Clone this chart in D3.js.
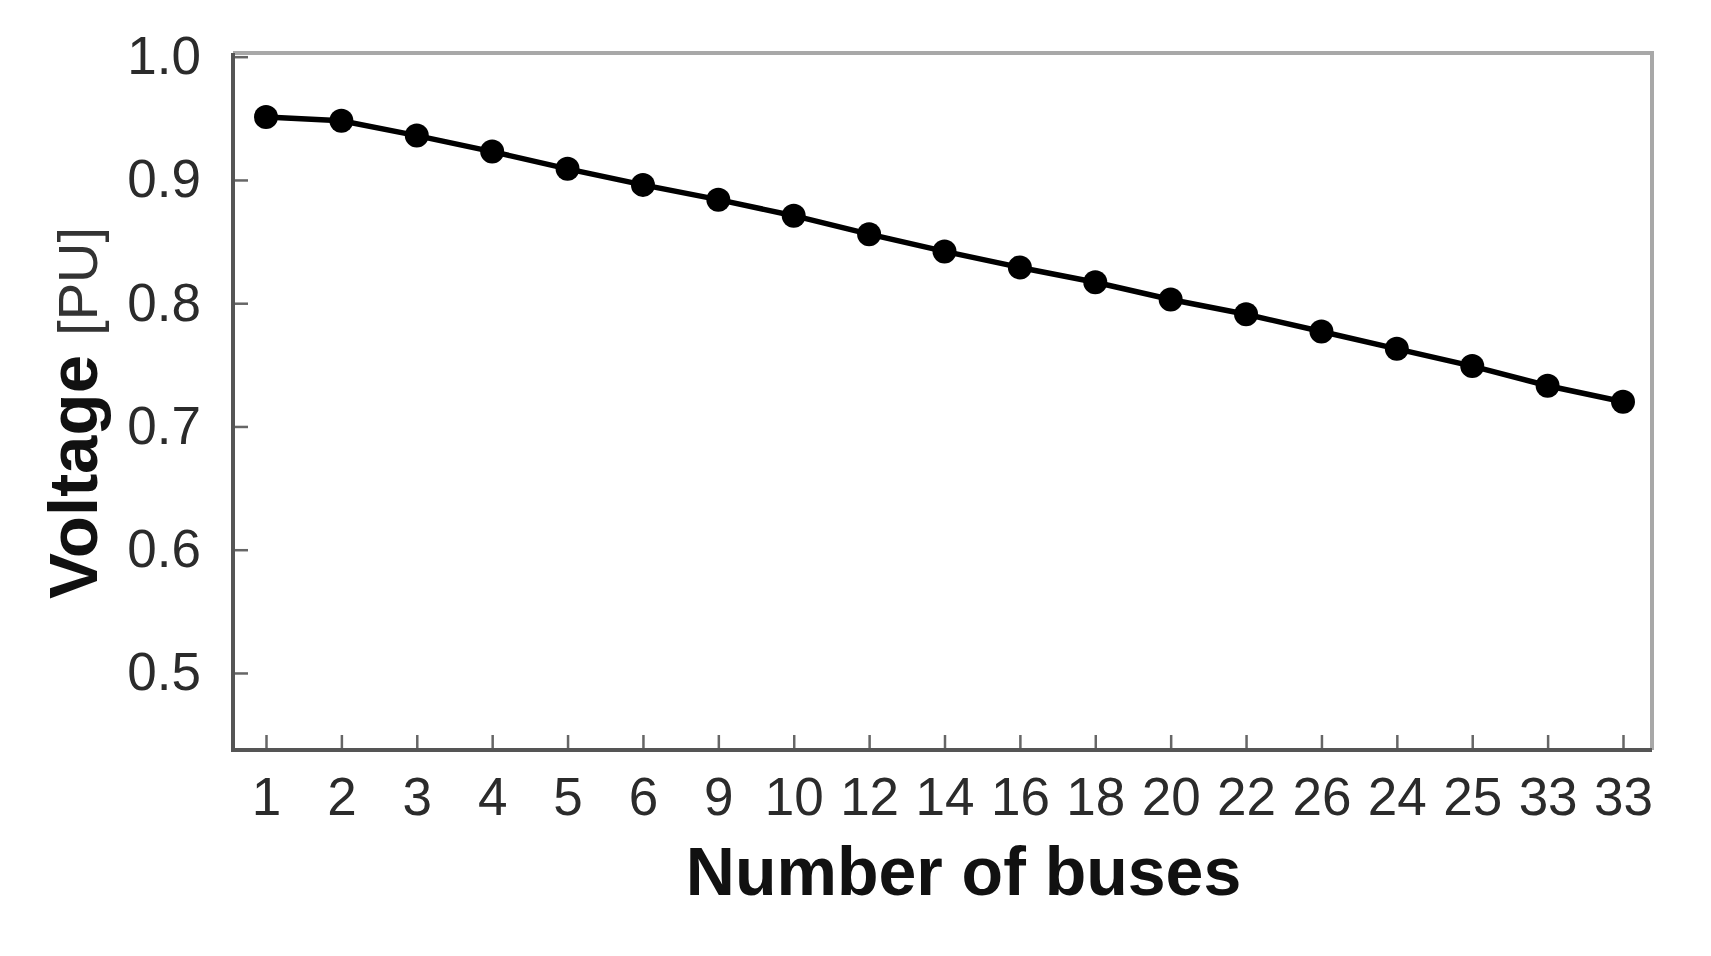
<!DOCTYPE html>
<html>
<head>
<meta charset="utf-8">
<script src="https://cdn.jsdelivr.net/npm/d3@7/dist/d3.min.js"></script>
<style>
	body { margin: 0; background: #fff; }
	svg { display: block; }
</style>
</head>
<body>
<svg id="chart" width="1711" height="956"></svg>
<script>

// Bus labels, in the order in which they appear along the feeder:
var busLabels = ["1", "2", "3", "4", "5", "6", "9", "10", "12", "14",
	"16", "18", "20", "22", "26", "24", "25", "33", "33"];

// Voltage at each bus (per unit):
var voltages = [0.951, 0.948, 0.936, 0.923, 0.909, 0.896, 0.884, 0.871, 0.856, 0.842,
	0.829, 0.817, 0.803, 0.791, 0.777, 0.763, 0.749, 0.733, 0.720];

var yTicks = [0.5, 0.6, 0.7, 0.8, 0.9, 1.0];
var yDomain = [0.4375, 1.003];

var width = 1711, height = 956;
var frame = { left: 233, right: 1652, top: 53, bottom: 750 };

var svg = d3.select("#chart");

svg.append("rect")
	.attr("width", width)
	.attr("height", height)
	.attr("fill", "#fff");

var x = d3.scalePoint()
	.domain(d3.range(busLabels.length))
	.range([frame.left + 33, frame.right - 29]);

var y = d3.scaleLinear()
	.domain(yDomain)
	.range([frame.bottom, frame.top]);

// The top and right borders of the box are lighter than the axes:
svg.append("path")
	.attr("d", "M" + frame.left + "," + frame.top + "H" + frame.right + "V" + frame.bottom)
	.attr("fill", "none")
	.attr("stroke", "#a8a8a8")
	.attr("stroke-width", 4);

// Y axis, ticks pointing inwards:
var yAxis = svg.append("g")
	.attr("transform", "translate(" + frame.left + ",0)")
	.call(d3.axisLeft(y)
		.tickValues(yTicks)
		.tickFormat(d3.format(".1f"))
		.tickSizeInner(-15)
		.tickSizeOuter(0)
		.tickPadding(32));

// X axis, same thing at the bottom:
var xAxis = svg.append("g")
	.attr("transform", "translate(0," + frame.bottom + ")")
	.call(d3.axisBottom(x)
		.tickFormat(function(i) { return busLabels[i]; })
		.tickSizeInner(-15)
		.tickSizeOuter(0)
		.tickPadding(27));

[yAxis, xAxis].forEach(function(axis) {
	// The point scale does not reach the box corners, so the axis lines are drawn below:
	axis.select(".domain").remove();
	axis.selectAll(".tick line")
		.attr("stroke", "#666")
		.attr("stroke-width", 2.5);
	axis.selectAll(".tick text")
		.attr("fill", "#2b2b2b")
		.style("font-family", "'Liberation Sans', Arial, sans-serif")
		.style("font-size", "53px");
});

// Left and bottom borders (the darker ones):
svg.append("path")
	.attr("d", "M" + frame.left + "," + frame.top + "V" + frame.bottom + "H" + frame.right)
	.attr("fill", "none")
	.attr("stroke", "#555")
	.attr("stroke-width", 4);

// The voltage profile:
var line = d3.line()
	.x(function(d, i) { return x(i); })
	.y(function(d) { return y(d); });

svg.append("path")
	.datum(voltages)
	.attr("d", line)
	.attr("fill", "none")
	.attr("stroke", "#000")
	.attr("stroke-width", 5.5);

svg.selectAll("circle.bus")
	.data(voltages)
	.enter().append("circle")
	.attr("class", "bus")
	.attr("cx", function(d, i) { return x(i); })
	.attr("cy", function(d) { return y(d); })
	.attr("r", 12)
	.attr("fill", "#000");

// Axis titles:
svg.append("text")
	.attr("x", (frame.left + frame.right) / 2 + 21)
	.attr("y", 895)
	.attr("text-anchor", "middle")
	.attr("fill", "#111")
	.style("font-family", "'Liberation Sans', Arial, sans-serif")
	.style("font-weight", "bold")
	.style("font-size", "68px")
	.text("Number of buses");

var yTitle = svg.append("text")
	.attr("transform", "translate(97,413)rotate(-90)")
	.attr("text-anchor", "middle")
	.style("font-family", "'Liberation Sans', Arial, sans-serif");

yTitle.append("tspan")
	.attr("fill", "#111")
	.style("font-weight", "bold")
	.style("font-size", "69px")
	.text("Voltage ");

yTitle.append("tspan")
	.attr("fill", "#333")
	.style("font-size", "56px")
	.text("[PU]");

</script>
</body>
</html>
